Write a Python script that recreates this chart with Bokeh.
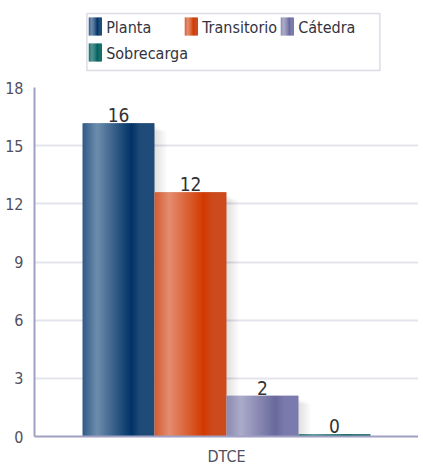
from bokeh.plotting import figure
from bokeh.layouts import column
from bokeh.models import Range1d, FixedTicker
from bokeh.core.properties import value
from bokeh.embed import file_html
from bokeh.resources import INLINE

# ---------------- data ----------------
categories = ["DTCE"]
series = ["Planta", "Transitorio", "Cátedra", "Sobrecarga"]
bar_heights = [16.15, 12.6, 2.1, 0.12]
value_labels = ["16", "12", "2", "0"]
y_ticks = [0, 3, 6, 9, 12, 15, 18]

# ---------------- styles ----------------
FONT = "DejaVu Sans Condensed"
# gradient stops per series: edge, light, dark, mid
palettes = [
    ("#2f5a86", "#6e8dad", "#003366", "#1f4b78"),
    ("#d45a30", "#e38d70", "#d23a00", "#cc4a1c"),
    ("#8a8ab2", "#ababca", "#69699c", "#7a7aac"),
    ("#1f6e6a", "#4e918e", "#00625e", "#1a6e6a"),
]


def hex2rgb(h):
    h = h.lstrip("#")
    return [int(h[i:i + 2], 16) for i in (0, 2, 4)]


def rgb2hex(c):
    return "#%02x%02x%02x" % tuple(int(round(v)) for v in c)


def gradient(pal, n):
    edge, light, dark, mid = pal
    stops = [(0.0, edge), (0.2, light), (0.68, dark), (0.8, mid), (1.0, mid)]
    out = []
    for k in range(n):
        t = (k + 0.5) / n
        for (t0, c0), (t1, c1) in zip(stops[:-1], stops[1:]):
            if t0 <= t <= t1:
                f = (t - t0) / (t1 - t0)
                a, b = hex2rgb(c0), hex2rgb(c1)
                out.append(rgb2hex([a[j] + (b[j] - a[j]) * f for j in range(3)]))
                break
    return out


W = 418
BL = 34
FRAME_W = W - BL
FRAME_H = 350
Y_MAX = 18
PX_X = 1.0 / FRAME_W
PX_Y = Y_MAX / FRAME_H
LG_H = 78

# ---------------- legend figure ----------------
lg = figure(width=W, height=LG_H, x_range=Range1d(0, W), y_range=Range1d(LG_H, 0),
            output_backend="svg", toolbar_location=None,
            x_axis_location=None, y_axis_location=None,
            min_border=0, min_border_left=0, min_border_right=0,
            min_border_top=0, min_border_bottom=0)
lg.outline_line_color = None
lg.xgrid.visible = False
lg.ygrid.visible = False
lg.quad(left=[57], right=[376], top=[13], bottom=[70],
        fill_color="white", line_color="#dcdce6", line_width=1.5)

col_x = [59, 163.5, 268]
row_y = [17, 43]
GW, GH = 14, 18
for i, name in enumerate(series):
    cx = col_x[i % 3]
    ry = row_y[i // 3]
    cols = gradient(palettes[i], GW)
    lg.quad(left=[cx + k for k in range(GW)], right=[cx + k + 1.5 for k in range(GW)],
            top=[ry] * GW, bottom=[ry + GH] * GW, fill_color=cols, line_color=None)
    lg.text(x=[cx + GW + 5], y=[ry + GH / 2 + 1], text=[name],
            text_font=value(FONT), text_font_size="16px", text_color="#333340",
            text_align="left", text_baseline="middle")

# ---------------- main figure ----------------
p = figure(width=W, height=390, x_range=Range1d(0, 1), y_range=Range1d(0, Y_MAX),
           output_backend="svg", toolbar_location=None,
           min_border_left=BL, min_border_right=0, min_border_top=9, min_border_bottom=31)
p.outline_line_color = None

n_series = len(series)
bw = 72.0 / FRAME_W
N = 36
for ci, cat in enumerate(categories):
    gc = (226.0 - BL) / FRAME_W
    # shadows
    for i in range(n_series):
        c = gc + (i - (n_series - 1) / 2) * bw
        left, right = c - bw / 2, c + bw / 2
        h = bar_heights[i]
        for j in range(1, 7):
            p.quad(left=[left + 3 * PX_X], right=[right + 2 * j * PX_X],
                   top=[max(h - (2 + j) * PX_Y, 0)], bottom=[0],
                   fill_color="#000000", fill_alpha=0.018, line_color=None)
    for i in range(n_series):
        c = gc + (i - (n_series - 1) / 2) * bw
        left = c - bw / 2
        cols = gradient(palettes[i], N)
        step = bw / N
        p.quad(left=[left + k * step for k in range(N)],
               right=[min(left + (k + 1) * step + 1.5 * PX_X, left + bw) for k in range(N)],
               top=[bar_heights[i]] * N, bottom=[0] * N,
               fill_color=cols, line_color=None)
        p.text(x=[c], y=[bar_heights[i]], text=[value_labels[i]],
               text_font=value(FONT), text_font_size="19px", text_color="#333333",
               text_align="center", text_baseline="bottom", y_offset=-1)

# axes
p.yaxis.ticker = FixedTicker(ticks=y_ticks)
p.xaxis.ticker = FixedTicker(ticks=[gc])
p.xaxis.major_label_overrides = {gc: categories[0]}
for ax in (p.xaxis, p.yaxis):
    ax.axis_line_color = "#a0a0c4"
    ax.axis_line_width = 2
    ax.major_tick_line_color = None
    ax.minor_tick_line_color = None
    ax.major_label_text_font = FONT
    ax.major_label_text_font_size = "16px"
    ax.major_label_text_color = "#505060"
p.yaxis.major_label_standoff = 5
p.xaxis.major_label_standoff = 4
p.xgrid.visible = False
p.ygrid.grid_line_color = "#e4e4ee"
p.ygrid.grid_line_width = 2

layout = column(lg, p, spacing=0)
open("out.html", "w").write(file_html(layout, INLINE))
